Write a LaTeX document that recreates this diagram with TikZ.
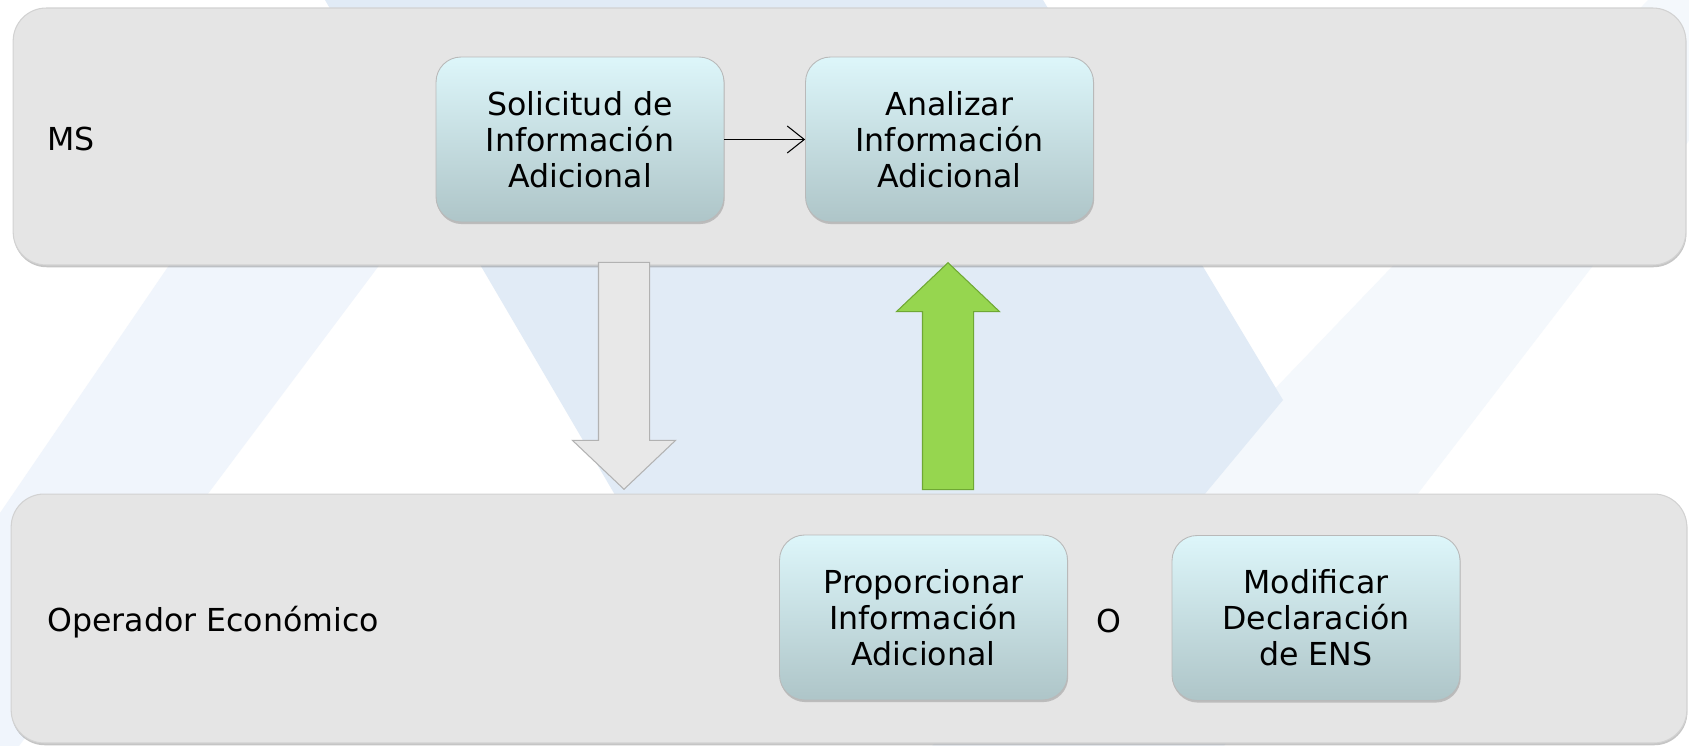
\documentclass[tikz,border=0pt]{standalone}
\usepackage{fontspec}
\setmainfont{DejaVu Sans}
\usetikzlibrary{positioning,
        shapes,
        shadows,
        arrows.meta}
\usepackage{xcolor}
\definecolor{bgblue}{HTML}{E1EBF6}
\definecolor{bgfaint}{HTML}{F0F5FC}
\definecolor{bgfainter}{HTML}{F4F8FC}
\definecolor{bandgray}{HTML}{E5E5E5}
\definecolor{boxtop}{HTML}{DDF6FA}
\definecolor{boxbot}{HTML}{AEC5C8}
\definecolor{greenarrow}{HTML}{96D64F}
\definecolor{greenedge}{HTML}{6FA834}

\tikzset{
  band/.style={rectangle, rounded corners=0.66cm, fill=bandgray, draw=gray!35, line width=0.6pt,
    drop shadow={shadow xshift=0.3pt, shadow yshift=-1.3pt, opacity=0.45}},
  task/.style={rectangle, rounded corners=0.5cm, minimum width=5.76cm, minimum height=3.3cm,
    top color=boxtop, bottom color=boxbot, draw=gray!55, line width=0.5pt, align=center,
    drop shadow={shadow xshift=0.4pt, shadow yshift=-1.2pt, opacity=0.4}},
  lane/.style={anchor=west, inner sep=0pt},
  bigarrow/.style={single arrow, minimum height=4.54cm, minimum width=2.04cm,
    inner xsep=0pt, inner ysep=0.5cm, anchor=tip,
    single arrow head extend=0.52cm, single arrow tip angle=93, line width=0.6pt}
}

\begin{document}
\begin{tikzpicture}[x=0.02cm, y=-0.02cm, font=\fontsize{18}{20.5}\selectfont]
    \useasboundingbox (0,0) rectangle (1689,746);
    \fill[white] (0,0) rectangle (1689,746);

    % watermark in the background
    \begin{scope}
        \clip (0,0) rectangle (1689,746);
        \fill[bgfaint] (350,0) -- (578,0) -- (19,746) -- (-159,746) -- cycle;
        \fill[bgfainter] (1648,0) -- (1797,0) -- (1224,746) -- (932,746) -- cycle;
        \fill[bgblue] (325,0) -- (1043,0) -- (1283,400) -- (1150,560) -- (700,640) -- cycle;
    \end{scope}

    % lanes
    \node [band, minimum width=33.46cm, minimum height=5.14cm] (msband) at (849.5,136.5) {};
    \node [band, minimum width=33.52cm, minimum height=4.98cm] (oeband) at (849,618.5) {};
    \node [lane] (ms) at (47,139) {MS};
    \node [lane] (oe) at (47,622) {Operador Económico};

    % arrows between the lanes
    \node [bigarrow, rotate=-90, fill=gray!18, draw=gray!60] (down) at (624,490) {};
    \node [bigarrow, rotate=90, fill=greenarrow, draw=greenedge] (up) at (948,262) {};

    % tasks
    \node [task] (solicitud) at (580,139.5) {Solicitud de\\Información\\Adicional};
    \node [task] (analizar) at (949.5,139.5) {Analizar\\Información\\Adicional};
    \node [task] (proporcionar) at (923.5,617.5) {Proporcionar\\Información\\Adicional};
    \node [task] (modificar) at (1316,618) {Modificar\\Declaración\\de ENS};
    \node (o) at (1109,621) {O};

    \draw [-{Straight Barb[length=0.34cm, width=0.54cm]}, line width=0.6pt] (solicitud) -- (analizar);
\end{tikzpicture}
\end{document}
